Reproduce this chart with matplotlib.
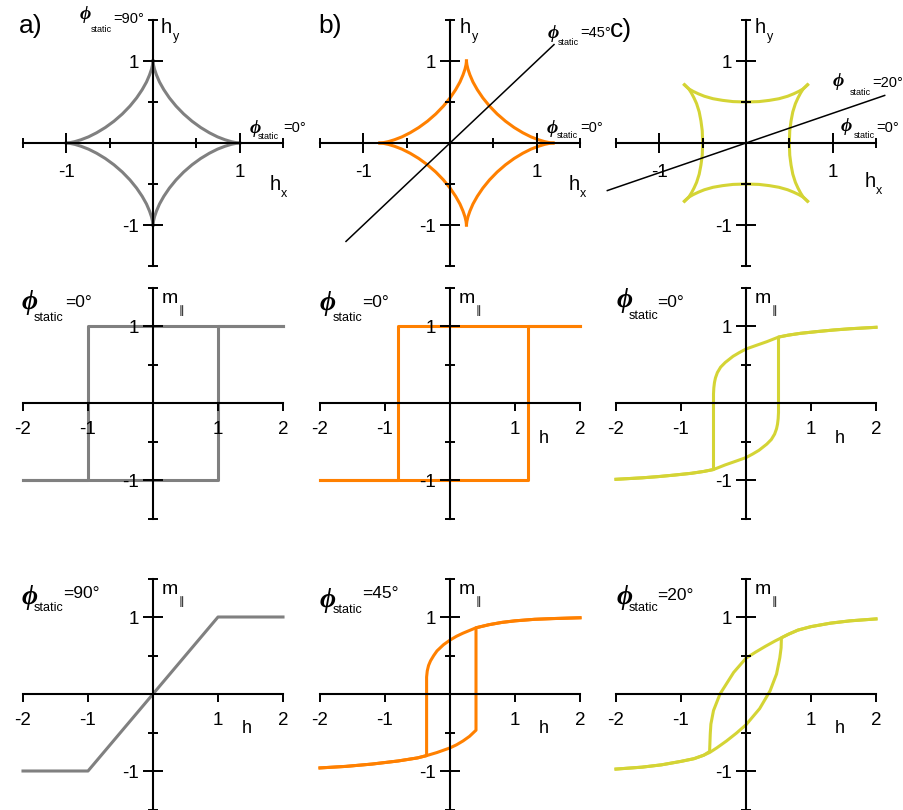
import matplotlib
matplotlib.use("Agg")
import matplotlib.pyplot as plt

plt.rcParams["font.family"] = ["Liberation Sans", "DejaVu Sans"]

GRAY = "#808080"
ORANGE = "#ff8000"
YELLOW = "#d4d435"

# ---- top row: switching curves (h_x, h_y) ----
# astroid, first quadrant
ast_x = [1.000, 0.989, 0.955, 0.901, 0.830, 0.744, 0.650, 0.550, 0.450, 0.354,
         0.266, 0.189, 0.125, 0.075, 0.040, 0.017, 0.005, 0.001, 0.000]
ast_y = [0.000, 0.001, 0.005, 0.017, 0.040, 0.075, 0.125, 0.189, 0.266, 0.354,
         0.450, 0.550, 0.650, 0.744, 0.830, 0.901, 0.955, 0.989, 1.000]
b_shift = 0.19  # panel b astroid is displaced along h_x

# panel c: right edge of the switching curve (other edges by symmetry)
c_edge_y = [-0.71, -0.66, -0.61, -0.55, -0.48, -0.38, -0.27, -0.15, 0.0,
            0.15, 0.27, 0.38, 0.48, 0.55, 0.61, 0.66, 0.71]
c_edge_x = [0.71, 0.66, 0.63, 0.60, 0.57, 0.54, 0.52, 0.505, 0.50,
            0.505, 0.52, 0.54, 0.57, 0.60, 0.63, 0.66, 0.71]

line45_hx = [-1.2, 1.2]
line45_hy = [-1.2, 1.2]
line20_hx = [-1.6, 1.6]
line20_hy = [-0.58, 0.58]

# ---- middle row: loops for phi_static = 0 ----
gray0_up_h = [-2.0, 1.0, 1.0, 2.0]
gray0_up_m = [-1.0, -1.0, 1.0, 1.0]
gray0_dn_h = [2.0, -1.0, -1.0, -2.0]
gray0_dn_m = [1.0, 1.0, -1.0, -1.0]

orange0_up_h = [-2.0, 1.2, 1.2, 2.0]
orange0_up_m = [-1.0, -1.0, 1.0, 1.0]
orange0_dn_h = [2.0, -0.8, -0.8, -2.0]
orange0_dn_m = [1.0, 1.0, -1.0, -1.0]

yellow0_up_h = [-2.0, -1.6, -1.35, -1.1, -0.84, -0.65, -0.5, -0.32, -0.15, 0.0, 0.1,
                0.2, 0.32, 0.39, 0.44, 0.47, 0.485, 0.495, 0.5, 0.5, 0.65, 0.84, 1.1,
                1.35, 1.6, 2.0]
yellow0_up_m = [-0.987, -0.968, -0.952, -0.932, -0.909, -0.885, -0.86, -0.80, -0.75,
                -0.705, -0.66, -0.61, -0.53, -0.47, -0.40, -0.33, -0.27, -0.20, -0.12,
                0.86, 0.885, 0.909, 0.932, 0.952, 0.968, 0.987]
yellow0_dn_h = [2.0, 1.6, 1.35, 1.1, 0.84, 0.65, 0.5, 0.32, 0.15, 0.0, -0.1,
                -0.2, -0.32, -0.39, -0.44, -0.47, -0.485, -0.495, -0.5, -0.5, -0.65,
                -0.84, -1.1, -1.35, -1.6, -2.0]
yellow0_dn_m = [0.987, 0.968, 0.952, 0.932, 0.909, 0.885, 0.86, 0.80, 0.75,
                0.705, 0.66, 0.61, 0.53, 0.47, 0.40, 0.33, 0.27, 0.20, 0.12,
                -0.86, -0.885, -0.909, -0.932, -0.952, -0.968, -0.987]

# ---- bottom row: loops for phi_static = 90, 45, 20 ----
gray90_h = [-2.0, -1.0, 1.0, 2.0]
gray90_m = [-1.0, -1.0, 1.0, 1.0]

orange45_up_h = [-2.0, -1.6, -1.2, -0.8, -0.5, -0.36, -0.2, 0.0, 0.1, 0.2, 0.3, 0.4,
                 0.4, 0.6, 0.8, 1.0, 1.3, 1.6, 2.0]
orange45_up_m = [-0.96, -0.94, -0.91, -0.87, -0.83, -0.80, -0.76, -0.70, -0.66, -0.61,
                 -0.55, -0.47, 0.86, 0.90, 0.93, 0.95, 0.97, 0.98, 0.99]
orange45_dn_h = [2.0, 1.6, 1.3, 1.0, 0.8, 0.6, 0.4, 0.2, 0.1, 0.0, -0.1, -0.2, -0.25,
                 -0.3, -0.33, -0.35, -0.36, -0.36, -0.5, -0.8, -1.2, -1.6, -2.0]
orange45_dn_m = [0.99, 0.98, 0.97, 0.95, 0.93, 0.90, 0.86, 0.79, 0.75, 0.70, 0.64, 0.56,
                 0.50, 0.43, 0.37, 0.30, 0.22, -0.80, -0.83, -0.87, -0.91, -0.94, -0.96]

yellow20_up_h = [-2.0, -1.6, -1.3, -1.0, -0.8, -0.65, -0.56, -0.45, -0.3, -0.15, 0.0,
                 0.21, 0.37, 0.47, 0.52, 0.54, 0.545, 0.65, 0.8, 1.0, 1.3, 1.6, 2.0]
yellow20_up_m = [-0.975, -0.95, -0.92, -0.875, -0.84, -0.795, -0.76, -0.70, -0.61,
                 -0.51, -0.40, -0.19, 0.04, 0.26, 0.47, 0.60, 0.73, 0.775, 0.83, 0.875,
                 0.92, 0.95, 0.975]
yellow20_dn_h = [2.0, 1.6, 1.3, 1.0, 0.8, 0.65, 0.545, 0.45, 0.3, 0.15, 0.0, -0.19,
                 -0.40, -0.50, -0.54, -0.55, -0.56, -0.65, -0.8, -1.0, -1.3, -1.6, -2.0]
yellow20_dn_m = [0.975, 0.95, 0.92, 0.875, 0.83, 0.775, 0.73, 0.69, 0.62, 0.545, 0.465,
                 0.28, 0.0, -0.215, -0.39, -0.52, -0.746, -0.795, -0.84, -0.875, -0.92,
                 -0.95, -0.975]

W, H = 904, 810
fig = plt.figure(figsize=(W / 100, H / 100), dpi=100)

col_left = [23, 320, 616]
row_top = [20, 287.8, 578.5]
row_h = [246, 231, 231]


def make_axes(col, row):
    top, h = row_top[row], row_h[row]
    ax = fig.add_axes([col_left[col] / W, 1 - (top + h) / H, 260 / W, h / H])
    ax.patch.set_visible(False)
    for s in ("top", "right"):
        ax.spines[s].set_visible(False)
    for s in ("left", "bottom"):
        ax.spines[s].set_position(("data", 0))
        ax.spines[s].set_linewidth(1.5)
    ax.set_axisbelow(False)
    ax.xaxis.set_ticks_position("bottom")
    ax.yaxis.set_ticks_position("left")
    ax.set_ylim(-1.5, 1.5)
    ax.set_yticks([-1, 1], ["-1", "1"])
    ax.set_yticks([-1.5, -0.5, 0.5, 1.5], minor=True)
    ax.tick_params(which="both", width=1.4, labelsize=13.5, direction="inout")
    ax.tick_params(which="major", length=14)
    ax.tick_params(which="minor", length=7)
    ax.tick_params(axis="y", pad=3)
    if row == 0:
        ax.set_xlim(-1.5, 1.5)
        ax.set_xticks([-1, 1], ["-1", "1"])
        ax.set_xticks([-1.5, -0.5, 0.5, 1.5], minor=True)
        ax.tick_params(axis="x", pad=8)
    else:
        ax.set_xlim(-2, 2)
        ax.set_xticks([-2, -1, 1, 2], ["-2", "-1", "1", "2"])
        ax.tick_params(axis="x", which="major", direction="out", length=6, pad=7)
    return ax


def txt(ax, x, y, s, size, off=(0, 0), **kw):
    ax.annotate(s, (x, y), xytext=off, textcoords="offset pixels", fontsize=size,
                ha="left", va="baseline", annotation_clip=False, **kw)


def phi_label(ax, x, y, value, big, sub_off, eq_off):
    ps, ss, es = (20, 9, 12.5) if big else (14, 6.5, 10.5)
    txt(ax, x, y, "\u03d5", ps, family=["Liberation Serif", "DejaVu Serif"],
        style="italic", weight="bold")
    txt(ax, x, y, "static", ss, sub_off)
    txt(ax, x, y, "=" + value + "\u00b0", es, eq_off)


def hxy_labels(ax, hx_pos, hy_pos):
    txt(ax, hx_pos[0], hx_pos[1], "h", 14.5)
    txt(ax, hx_pos[0], hx_pos[1], "x", 9, (11, -7))
    txt(ax, hy_pos[0], hy_pos[1], "h", 14.5)
    txt(ax, hy_pos[0], hy_pos[1], "y", 9, (12, -7))


def mh_labels(ax, show_h=True):
    txt(ax, 0.14, 1.30, "m", 14)
    txt(ax, 0.14, 1.30, "\u2225", 8, (16, -11))
    if show_h:
        txt(ax, 1.37, -0.51, "h", 13)


lw = 2.2
quads = [(1, 1), (-1, 1), (-1, -1), (1, -1)]

# a) astroid
ax = make_axes(0, 0)
for sx, sy in quads:
    ax.plot([sx * v for v in ast_x], [sy * v for v in ast_y], color=GRAY, lw=lw,
            clip_on=False)
hxy_labels(ax, (1.35, -0.573), (0.092, 1.341))
phi_label(ax, -0.842, 1.512, "90", False, (11, -13), (33, -4))
phi_label(ax, 1.119, 0.122, "0", False, (8, -6), (33, 1))

# b) shifted astroid
ax = make_axes(1, 0)
for sx, sy in quads:
    ax.plot([sx * v + b_shift for v in ast_x], [sy * v for v in ast_y], color=ORANGE,
            lw=lw, clip_on=False)
ax.plot(line45_hx, line45_hy, color="black", lw=1.1, clip_on=False)
hxy_labels(ax, (1.372, -0.573), (0.115, 1.341))
phi_label(ax, 1.13, 1.28, "45", False, (10, -7), (32, 1))
phi_label(ax, 1.12, 0.122, "0", False, (10, -5), (33, 1))

# c) concave square
ax = make_axes(2, 0)
for s in (1, -1):
    ax.plot([s * v for v in c_edge_x], c_edge_y, color=YELLOW, lw=lw, clip_on=False)
    ax.plot(c_edge_y, [s * v for v in c_edge_x], color=YELLOW, lw=lw, clip_on=False)
ax.plot(line20_hx, line20_hy, color="black", lw=1.1, clip_on=False)
hxy_labels(ax, (1.372, -0.537), (0.104, 1.341))
phi_label(ax, 1.00, 0.695, "20", False, (17, -9), (40, -1))
phi_label(ax, 1.095, 0.146, "0", False, (13, -7), (35, -1))

# middle row
ax = make_axes(0, 1)
ax.plot(gray0_up_h, gray0_up_m, color=GRAY, lw=lw, clip_on=False)
ax.plot(gray0_dn_h, gray0_dn_m, color=GRAY, lw=lw, clip_on=False)
mh_labels(ax, show_h=False)
phi_label(ax, -2.015, 1.225, "0", True, (12, -12), (43, 2))

ax = make_axes(1, 1)
ax.plot(orange0_up_h, orange0_up_m, color=ORANGE, lw=lw, clip_on=False)
ax.plot(orange0_dn_h, orange0_dn_m, color=ORANGE, lw=lw, clip_on=False)
mh_labels(ax)
phi_label(ax, -2.0, 1.21, "0", True, (13, -11), (42, 3))

ax = make_axes(2, 1)
ax.plot(yellow0_up_h, yellow0_up_m, color=YELLOW, lw=lw, clip_on=False)
ax.plot(yellow0_dn_h, yellow0_dn_m, color=YELLOW, lw=lw, clip_on=False)
mh_labels(ax)
phi_label(ax, -1.985, 1.25, "0", True, (12, -12), (40, 0))

# bottom row
ax = make_axes(0, 2)
ax.plot(gray90_h, gray90_m, color=GRAY, lw=lw, clip_on=False)
mh_labels(ax)
phi_label(ax, -2.015, 1.17, "90", True, (12, -7), (41, 6))

ax = make_axes(1, 2)
ax.plot(orange45_up_h, orange45_up_m, color=ORANGE, lw=lw, clip_on=False)
ax.plot(orange45_dn_h, orange45_dn_m, color=ORANGE, lw=lw, clip_on=False)
mh_labels(ax)
phi_label(ax, -2.0, 1.13, "45", True, (13, -6), (42, 9))

ax = make_axes(2, 2)
ax.plot(yellow20_up_h, yellow20_up_m, color=YELLOW, lw=lw, clip_on=False)
ax.plot(yellow20_dn_h, yellow20_dn_m, color=YELLOW, lw=lw, clip_on=False)
mh_labels(ax)
phi_label(ax, -1.985, 1.17, "20", True, (12, -7), (40, 4))

# panel letters
for x, y, s in [(19, 33, "a)"), (318, 33, "b)"), (610, 37, "c)")]:
    fig.text(x / W, 1 - y / H, s, fontsize=19, va="baseline", ha="left")

fig.savefig("out.png", dpi=100)
